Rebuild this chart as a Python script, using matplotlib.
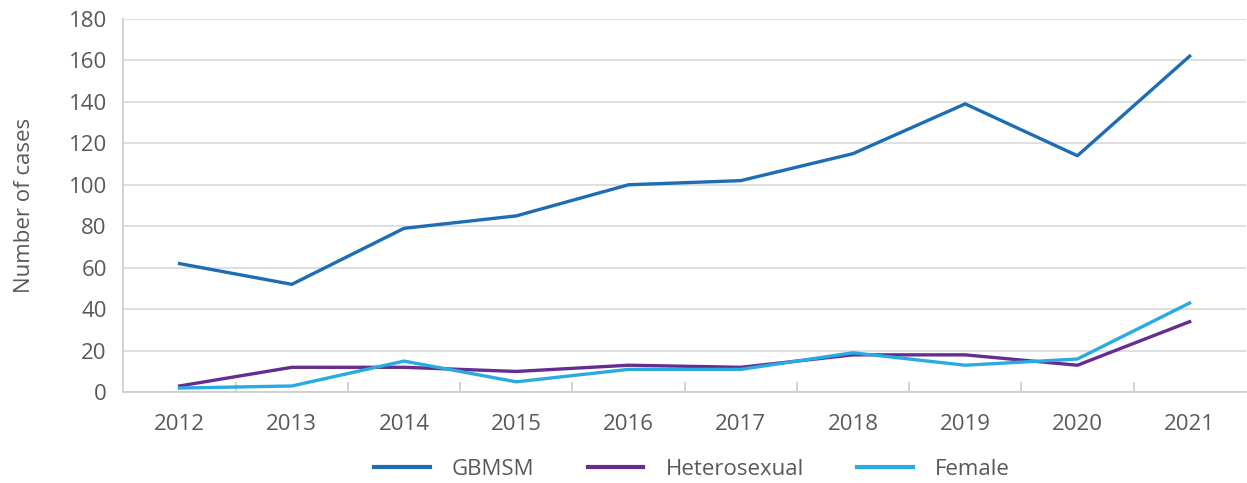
import numpy as np
import matplotlib.pyplot as plt
from matplotlib.ticker import FixedLocator

plt.rcParams['font.family'] = ['Open Sans', 'DejaVu Sans']

# values
years = ['2012', '2013', '2014', '2015', '2016', '2017', '2018', '2019', '2020', '2021']
gbmsm = [62, 52, 79, 85, 100, 102, 115, 139, 114, 162]
heterosexual = [3, 12, 12, 10, 13, 12, 18, 18, 13, 34]
female = [2, 3, 15, 5, 11, 11, 19, 13, 16, 43]

grey_text = '#595959'
grid_col = '#d9d9d9'
fs = 16

fig = plt.figure(figsize=(12.47, 4.83), dpi=100)
ax = fig.add_axes([0.099, 0.188, 0.9, 0.773])

x = np.arange(len(years))
ax.plot(x, gbmsm, color='#1c6db3', lw=2.4, label='GBMSM')
ax.plot(x, heterosexual, color='#662d91', lw=2.4, label='Heterosexual')
ax.plot(x, female, color='#29abe2', lw=2.4, label='Female')

ax.set_xlim(-0.5, 9.5)
ax.set_ylim(0, 180)
ax.set_yticks(range(0, 181, 20))
ax.set_xticks(x)
ax.set_xticklabels(years)
ax.xaxis.set_minor_locator(FixedLocator(np.arange(0.5, 9, 1)))

ax.grid(axis='y', color=grid_col, lw=1.2)
ax.set_axisbelow(True)
for s in ['top', 'right']:
    ax.spines[s].set_visible(False)
for s in ['left', 'bottom']:
    ax.spines[s].set_color('#cccccc')
    ax.spines[s].set_linewidth(1.2)

ax.tick_params(axis='y', length=0, pad=12, labelsize=fs, labelcolor=grey_text)
ax.tick_params(axis='x', which='major', length=0, pad=16, labelsize=fs, labelcolor=grey_text)
ax.tick_params(axis='x', which='minor', direction='in', length=7, width=1.2, color='#cccccc')

ax.set_ylabel('Number of cases', fontsize=fs, color=grey_text, labelpad=24)

leg = fig.legend(loc='lower center', bbox_to_anchor=(0.555, -0.035), ncol=3, frameon=False,
                 fontsize=fs, handlelength=2.5, columnspacing=2.4, handletextpad=1.0)
for t in leg.get_texts():
    t.set_color(grey_text)
for h in leg.get_lines():
    h.set_linewidth(3)

fig.savefig('out.png', dpi=100)
